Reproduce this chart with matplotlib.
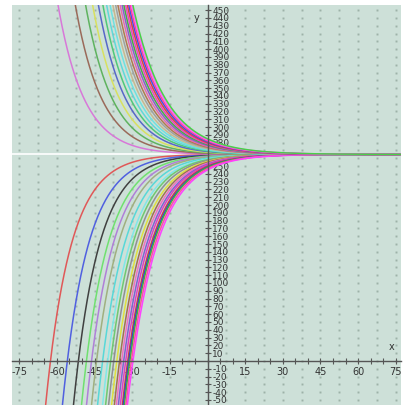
import numpy as np
import matplotlib
matplotlib.use('Agg')
import matplotlib.pyplot as plt
from matplotlib.ticker import MultipleLocator, FixedLocator

plt.rcParams['axes.unicode_minus'] = False

# Family of curves y = asym + C*exp(-k*x)
# each curve is pinned by where it leaves the plot and its decay rate
asym = 265
y_top = 450
y_bot = -50
x_top_upper = [-59.2, -52.3, -48.2, -45.4, -43.1, -41.3, -39.8, -38.4, -37.3, -36.2,
               -35.3, -34.4, -33.6, -32.9, -32.2, -31.5, -30.9, -30.4, -29.8, -29.3]
k_upper = [0.095, 0.094, 0.093, 0.092, 0.091, 0.090, 0.089, 0.088, 0.087, 0.086,
           0.085, 0.084, 0.083, 0.082, 0.081, 0.080, 0.079, 0.078, 0.077, 0.076]
x_bot_lower = [-64.3, -57.6, -53.2, -50.0, -48.0, -46.0, -43.6, -41.6, -40.4, -39.2,
               -38.0, -36.9, -36.1, -35.3, -34.5, -33.7, -33.3, -32.9, -32.3, -31.7]
k_lower = [0.100, 0.099, 0.099, 0.098, 0.097, 0.097, 0.096, 0.095, 0.095, 0.094,
           0.093, 0.093, 0.092, 0.091, 0.091, 0.090, 0.089, 0.089, 0.088, 0.087]

upper_colors = ['#d878d8', '#9a6a5a', '#5fb35f', '#d8e060', '#5868c8',
                '#50c878', '#60d8d8', '#70e0e0', '#c8b890', '#a0a0a0',
                '#b07850', '#e868b0', '#8860c8', '#48a848', '#f040c0',
                '#e04040', '#4050e0', '#ff40a0', '#ff60ff', '#48d048']
lower_colors = ['#e05858', '#5060e0', '#404040', '#70e070', '#b080d8',
                '#a0b080', '#58d8d8', '#80e8e8', '#70c870', '#909090',
                '#e0e040', '#a07050', '#f070c0', '#8060d0', '#e040c0',
                '#d04040', '#3040d0', '#40b040', '#ff50a0', '#ff40ff']

x_ticks = [-75, -60, -45, -30, -15, 15, 30, 45, 60, 75]
y_ticks = [v for v in range(-50, 451, 10) if v != 0]

xmin, xmax = -77.9, 77.1
ymin, ymax = -56.5, 456.6

fig = plt.figure(figsize=(4.03, 4.05), dpi=100)
ax = fig.add_axes([12/403, 0, 389/403, 400/405])
ax.set_facecolor('#cde0d8')
ax.set_xlim(xmin, xmax)
ax.set_ylim(ymin, ymax)

# dotted grid
gx, gy = np.meshgrid(np.arange(-75, 76, 7.5), np.arange(-50, 451, 10))
ax.plot(gx.ravel(), gy.ravel(), ls='none', marker='s', ms=1.4,
        mec='none', mfc='#9db2a8', zorder=1)

# asymptote
ax.axhline(asym, color='white', lw=1.2, zorder=2)

x = np.linspace(xmin, xmax, 1500)
for xb, k, col in zip(x_bot_lower, k_lower, lower_colors):
    C = (y_bot - asym)*np.exp(k*xb)
    ax.plot(x, asym + C*np.exp(-k*x), color=col, lw=1.1, zorder=3)
for xt, k, col in zip(x_top_upper, k_upper, upper_colors):
    C = (y_top - asym)*np.exp(k*xt)
    ax.plot(x, asym + C*np.exp(-k*x), color=col, lw=1.1, zorder=3)

# axes through the origin
ax.spines['top'].set_visible(False)
ax.spines['left'].set_position(('data', 0))
ax.spines['bottom'].set_position(('data', 0))
ax.spines['right'].set_position(('data', 0))
ax.spines['right'].set_visible(False)
for s in ['left', 'bottom']:
    ax.spines[s].set_color('#555555')
    ax.spines[s].set_linewidth(1.0)
    ax.spines[s].set_zorder(4)

ax.xaxis.set_major_locator(FixedLocator(x_ticks))
ax.xaxis.set_minor_locator(MultipleLocator(5))
ax.yaxis.set_major_locator(FixedLocator(y_ticks))
ax.set_xticklabels([str(v) for v in x_ticks])
ax.set_yticklabels([str(v) for v in y_ticks])
ax.yaxis.set_ticks_position('both')
ax.tick_params(axis='x', which='both', direction='inout', length=5,
               width=0.8, color='#555555', labelsize=7, labelcolor='#333333', pad=2)
ax.tick_params(axis='y', which='both', direction='inout', length=5,
               width=0.8, color='#555555', labelsize=6.5, labelcolor='#333333',
               labelleft=False, labelright=True, right=False, pad=1)

ax.text(73.5, 18, 'x', fontsize=7, color='#333333', ha='center', va='center')
ax.text(-4.2, 440, 'y', fontsize=7, color='#333333', ha='center', va='center')

fig.savefig('out.png', dpi=100, facecolor='white')
